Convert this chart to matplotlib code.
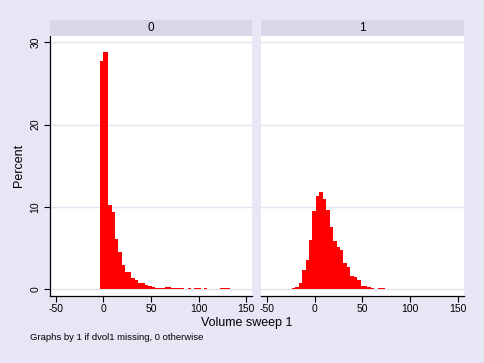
import numpy as np
import matplotlib
matplotlib.use("Agg")
import matplotlib.pyplot as plt

plt.rcParams['font.family'] = ['Liberation Sans', 'DejaVu Sans']

# ---------------- data ----------------
panel_labels = ["0", "1"]

# group 0 (dvol1 not missing): bin edges and percent heights
bin_edges_0 = [-3.15, 0.0, 5.2, 8.7, 12.2, 15.7, 19.2, 22.7, 26.1, 29.4, 33.0,
               36.6, 40.3, 44.0, 47.3, 50.6, 54.3, 57.7, 61.1, 64.6, 68.0,
               71.4, 74.9, 78.3, 81.7, 85.1, 88.6, 92.0, 95.4, 98.9, 102.3,
               105.7, 109.2, 112.6, 116.0, 119.4, 122.9, 126.3, 129.7, 133.2]
percent_0 = [27.7, 28.8, 10.2, 9.37, 6.08, 4.5, 2.92, 2.07, 2.07, 1.34,
             1.09, 0.77, 0.77, 0.49, 0.36, 0.28, 0.16, 0.16, 0.16, 0.28,
             0.2, 0.16, 0.08, 0.14, 0.14, 0.0, 0.16, 0.0, 0.08, 0.08,
             0.0, 0.08, 0.0, 0.0, 0.0, 0.0, 0.08, 0.08, 0.08]

# group 1 (dvol1 missing)
bin_start_1 = -23.7
bin_end_1 = 73.3
percent_1 = [0.1, 0.2, 0.75, 2.3, 3.5, 6.0, 9.5, 11.3, 11.8, 11.0, 9.6,
             7.5, 5.8, 5.1, 4.7, 3.2, 2.7, 1.6, 1.5, 1.1, 0.37, 0.37,
             0.25, 0.1, 0.0, 0.1, 0.1]

x_ticks = [-50, 0, 50, 100, 150]
y_ticks = [0, 10, 20, 30]
x_title = "Volume sweep 1"
y_title = "Percent"
note = "Graphs by 1 if dvol1 missing, 0 otherwise"

# ---------------- style ----------------
W, H = 485, 363
bg = "#E6E6F5"
header_bg = "#D7D7E7"
grid_col = "#E2E2F1"
bar_col = "#FF0000"

fig = plt.figure(figsize=(W / 100, H / 100), dpi=100, facecolor=bg)


def fx(px):
    return px / W


def fy(py):
    return 1 - py / H


panels = [(50, 252), (261, 463.7)]
top_px, bot_px = 35.7, 296
xlim = (-56.0, 156.0)
ylim = (-0.85, 30.8)

edges_1 = np.linspace(bin_start_1, bin_end_1, len(percent_1) + 1)
hist_data = [
    (np.array(bin_edges_0), np.array(percent_0)),
    (edges_1, np.array(percent_1)),
]

for i, ((x0, x1), (edges, vals)) in enumerate(zip(panels, hist_data)):
    ax = fig.add_axes([fx(x0), fy(bot_px), fx(x1 - x0), (bot_px - top_px) / H])
    ax.set_facecolor("white")
    ax.bar(edges[:-1], vals, width=np.diff(edges), align="edge",
           color=bar_col, linewidth=0, zorder=3)
    ax.set_xlim(*xlim)
    ax.set_ylim(*ylim)
    ax.set_yticks(y_ticks)
    ax.set_xticks(x_ticks)
    ax.grid(axis="y", color=grid_col, linewidth=1.0, zorder=0)
    ax.set_axisbelow(True)
    for s in ["top", "right"]:
        ax.spines[s].set_visible(False)
    ax.spines["bottom"].set_color("black")
    ax.spines["bottom"].set_linewidth(0.9)
    ax.tick_params(axis="x", direction="out", length=4, width=0.8,
                   labelsize=7.5, pad=2)
    ax.set_xticklabels([str(t) for t in x_ticks])
    if i == 0:
        ax.spines["left"].set_color("black")
        ax.spines["left"].set_linewidth(0.9)
        ax.tick_params(axis="y", direction="out", length=4, width=0.8,
                       labelsize=7.5, pad=3)
        ax.set_yticklabels([str(t) for t in y_ticks], rotation=90, va="center")
        ax.set_ylabel(y_title, fontsize=9, labelpad=4)
    else:
        ax.spines["left"].set_visible(False)
        ax.tick_params(axis="y", left=False, labelleft=False)

    # header strip
    hx = fig.add_axes([fx(x0), fy(top_px), fx(x1 - x0), (top_px - 20) / H])
    hx.set_facecolor(header_bg)
    hx.set_xticks([])
    hx.set_yticks([])
    for s in hx.spines.values():
        s.set_visible(False)
    hx.text(0.5, 0.5, panel_labels[i], ha="center", va="center",
            fontsize=8.5, transform=hx.transAxes)

fig.text(fx(246.5), fy(323), x_title, ha="center", va="center", fontsize=9)
fig.text(fx(30), fy(337), note, ha="left", va="center", fontsize=6.8)

fig.savefig("out.png", dpi=100, facecolor=bg)
